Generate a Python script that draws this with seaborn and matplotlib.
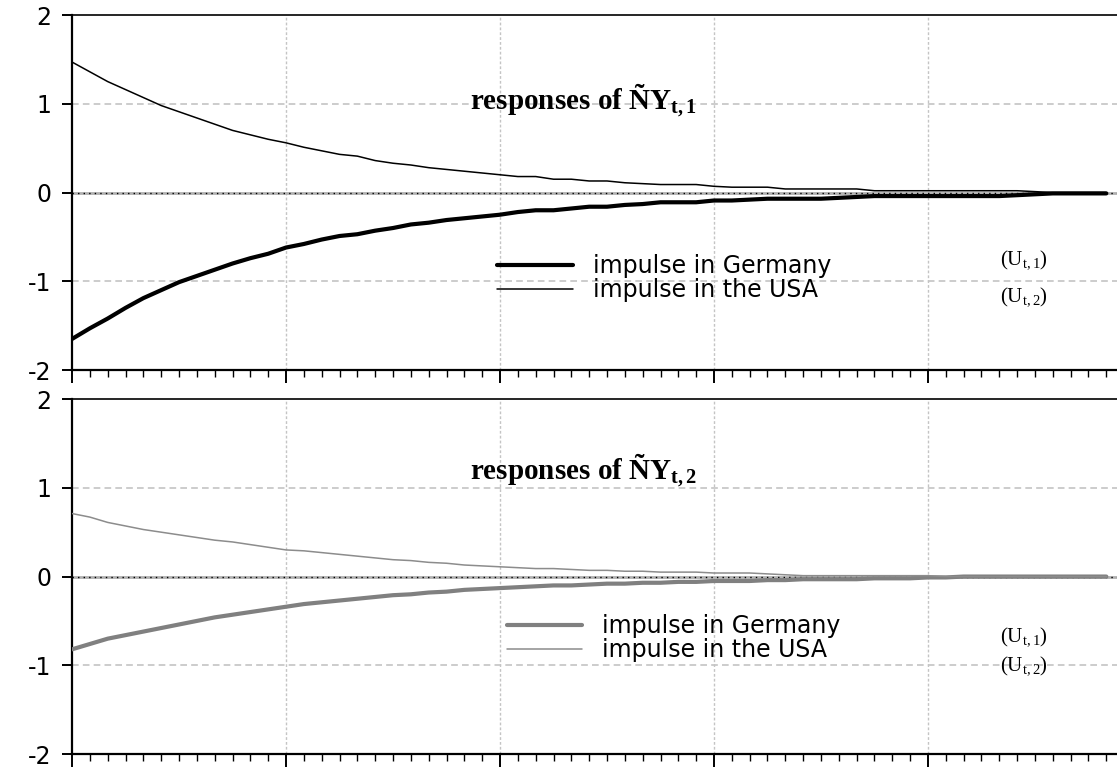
"""
Réponses impulsionnelles (Allemagne / USA) - deux panneaux empilés.
"""

import numpy as np
import pandas as pd
import matplotlib
matplotlib.use("Agg")
import matplotlib.pyplot as plt
import seaborn as sns
from matplotlib.ticker import MultipleLocator

# Données (pas 0..58)
steps = list(range(59))

resp1_germany = [-1.65, -1.53, -1.42, -1.30, -1.19, -1.10, -1.01, -0.94, -0.87, -0.80,
                 -0.74, -0.69, -0.62, -0.58, -0.53, -0.49, -0.47, -0.43, -0.40, -0.36,
                 -0.34, -0.31, -0.29, -0.27, -0.25, -0.22, -0.20, -0.20, -0.18, -0.16,
                 -0.16, -0.14, -0.13, -0.11, -0.11, -0.11, -0.09, -0.09, -0.08, -0.07,
                 -0.07, -0.07, -0.07, -0.06, -0.05, -0.04, -0.04, -0.04, -0.04, -0.04,
                 -0.04, -0.04, -0.04, -0.03, -0.02, -0.01, -0.01, -0.01, -0.01]
resp1_usa = [1.47, 1.36, 1.25, 1.16, 1.07, 0.98, 0.91, 0.84, 0.77, 0.70,
             0.65, 0.60, 0.56, 0.51, 0.47, 0.43, 0.41, 0.36, 0.33, 0.31,
             0.28, 0.26, 0.24, 0.22, 0.20, 0.18, 0.18, 0.15, 0.15, 0.13,
             0.13, 0.11, 0.10, 0.09, 0.09, 0.09, 0.07, 0.06, 0.06, 0.06,
             0.04, 0.04, 0.04, 0.04, 0.04, 0.02, 0.02, 0.02, 0.02, 0.02,
             0.02, 0.02, 0.02, 0.02, 0.01, 0.00, 0.00, 0.00, 0.00]

resp2_germany = [-0.82, -0.76, -0.70, -0.66, -0.62, -0.58, -0.54, -0.50, -0.46, -0.43,
                 -0.40, -0.37, -0.34, -0.31, -0.29, -0.27, -0.25, -0.23, -0.21, -0.20,
                 -0.18, -0.17, -0.15, -0.14, -0.13, -0.12, -0.11, -0.10, -0.10, -0.09,
                 -0.08, -0.08, -0.07, -0.07, -0.06, -0.06, -0.05, -0.05, -0.05, -0.04,
                 -0.04, -0.03, -0.03, -0.03, -0.03, -0.02, -0.02, -0.02, -0.01, -0.01,
                 0.00, 0.00, 0.00, 0.00, 0.00, 0.00, 0.00, 0.00, 0.00]
resp2_usa = [0.71, 0.67, 0.61, 0.57, 0.53, 0.50, 0.47, 0.44, 0.41, 0.39,
             0.36, 0.33, 0.30, 0.29, 0.27, 0.25, 0.23, 0.21, 0.19, 0.18,
             0.16, 0.15, 0.13, 0.12, 0.11, 0.10, 0.09, 0.09, 0.08, 0.07,
             0.07, 0.06, 0.06, 0.05, 0.05, 0.05, 0.04, 0.04, 0.04, 0.03,
             0.02, 0.01, 0.01, 0.01, 0.01, 0.01, 0.01, 0.01, 0.01, 0.00,
             0.00, 0.00, 0.00, 0.00, 0.00, 0.00, 0.00, 0.00, 0.00]

labels = ["impulse in Germany", "impulse in the USA"]
titles = [r"responses of Ñ$\mathbf{Y}_{\mathbf{t,1}}$",
          r"responses of Ñ$\mathbf{Y}_{\mathbf{t,2}}$"]
u_labels = [r"$(\mathrm{U}_{\mathrm{t,1}})$", r"$(\mathrm{U}_{\mathrm{t,2}})$"]

sns.set_style("white")
plt.rcParams['font.family'] = ['DejaVu Sans']
plt.rcParams['axes.unicode_minus'] = False
plt.rcParams['text.color'] = 'black'
plt.rcParams['xtick.color'] = 'black'
plt.rcParams['ytick.color'] = 'black'
plt.rcParams['mathtext.fontset'] = 'custom'
plt.rcParams['mathtext.rm'] = 'Liberation Serif'
plt.rcParams['mathtext.bf'] = 'Liberation Serif:bold'
plt.rcParams['mathtext.it'] = 'Liberation Serif:italic'

fig = plt.figure(figsize=(11.17, 7.67), dpi=100)
ax_top = fig.add_axes([0.0645, 0.5176, 0.9355, 0.4628])
ax_bot = fig.add_axes([0.0645, 0.0169, 0.9355, 0.4628])

panels = [
    (ax_top, resp1_germany, resp1_usa, "#000000", "#000000", 0.258, 0.407, 0.76, (0.31, 0.208)),
    (ax_bot, resp2_germany, resp2_usa, "#808080", "#8c8c8c", 0.327, 0.416, 0.80, (0.332, 0.248)),
]

for ax, ger, usa, c_ger, c_usa, leg_y, leg_x, title_y, u_y in panels:
    # grille
    for v in [12, 24, 36, 48]:
        ax.axvline(v, color="#c4c4c4", lw=1.0, ls=(0, (2, 1.5)), zorder=0)
    for h in [-1, 1]:
        ax.axhline(h, color="#c4c4c4", lw=1.2, ls=(0, (4, 2.5)), zorder=0)
    ax.axhline(0, color="#b0b0b0", lw=2.0, zorder=1)
    ax.axhline(0, color="#000000", lw=1.0, ls=(0, (1, 3)), zorder=1)

    df = pd.DataFrame({"step": steps, "germany": ger, "usa": usa})
    sns.lineplot(data=df, x="step", y="germany", ax=ax, color=c_ger, linewidth=3.0,
                 label=labels[0], zorder=3)
    sns.lineplot(data=df, x="step", y="usa", ax=ax, color=c_usa, linewidth=1.1,
                 label=labels[1], zorder=3)

    ax.set_xlim(0, 58.6)
    ax.set_ylim(-2, 2)
    ax.set_xlabel("")
    ax.set_ylabel("")
    ax.set_yticks([-2, -1, 0, 1, 2])
    ax.set_yticklabels(["-2", "-1", "0", "1", "2"])
    ax.xaxis.set_major_locator(MultipleLocator(12))
    ax.xaxis.set_minor_locator(MultipleLocator(1))
    ax.set_xticklabels([])
    ax.tick_params(axis="y", direction="out", length=7, width=1.4, labelsize=17, pad=8,
                   left=True)
    ax.tick_params(axis="x", which="major", direction="out", length=9, width=1.4, bottom=True)
    ax.tick_params(axis="x", which="minor", direction="out", length=5, width=1.0, bottom=True)

    for side in ["left", "bottom", "top"]:
        ax.spines[side].set_visible(True)
        ax.spines[side].set_color("#000000")
    ax.spines["left"].set_linewidth(1.6)
    ax.spines["bottom"].set_linewidth(1.6)
    ax.spines["top"].set_linewidth(1.2)
    ax.spines["right"].set_visible(False)

    leg = ax.legend(loc="center left", bbox_to_anchor=(leg_x, leg_y), frameon=False,
                    fontsize=17, handlelength=3.2, handletextpad=0.85, labelspacing=0.0,
                    borderpad=0, borderaxespad=0)
    for t in leg.get_texts():
        t.set_color("black")

    ax.text(0.381, title_y, titles[0] if ax is ax_top else titles[1],
            transform=ax.transAxes, fontsize=21, fontweight="bold",
            family="Liberation Serif", va="center", ha="left", color="black")
    ax.text(0.888, u_y[0], u_labels[0], transform=ax.transAxes, fontsize=15, va="center")
    ax.text(0.888, u_y[1], u_labels[1], transform=ax.transAxes, fontsize=15, va="center")

plt.savefig("out.png", dpi=100)
plt.close()
